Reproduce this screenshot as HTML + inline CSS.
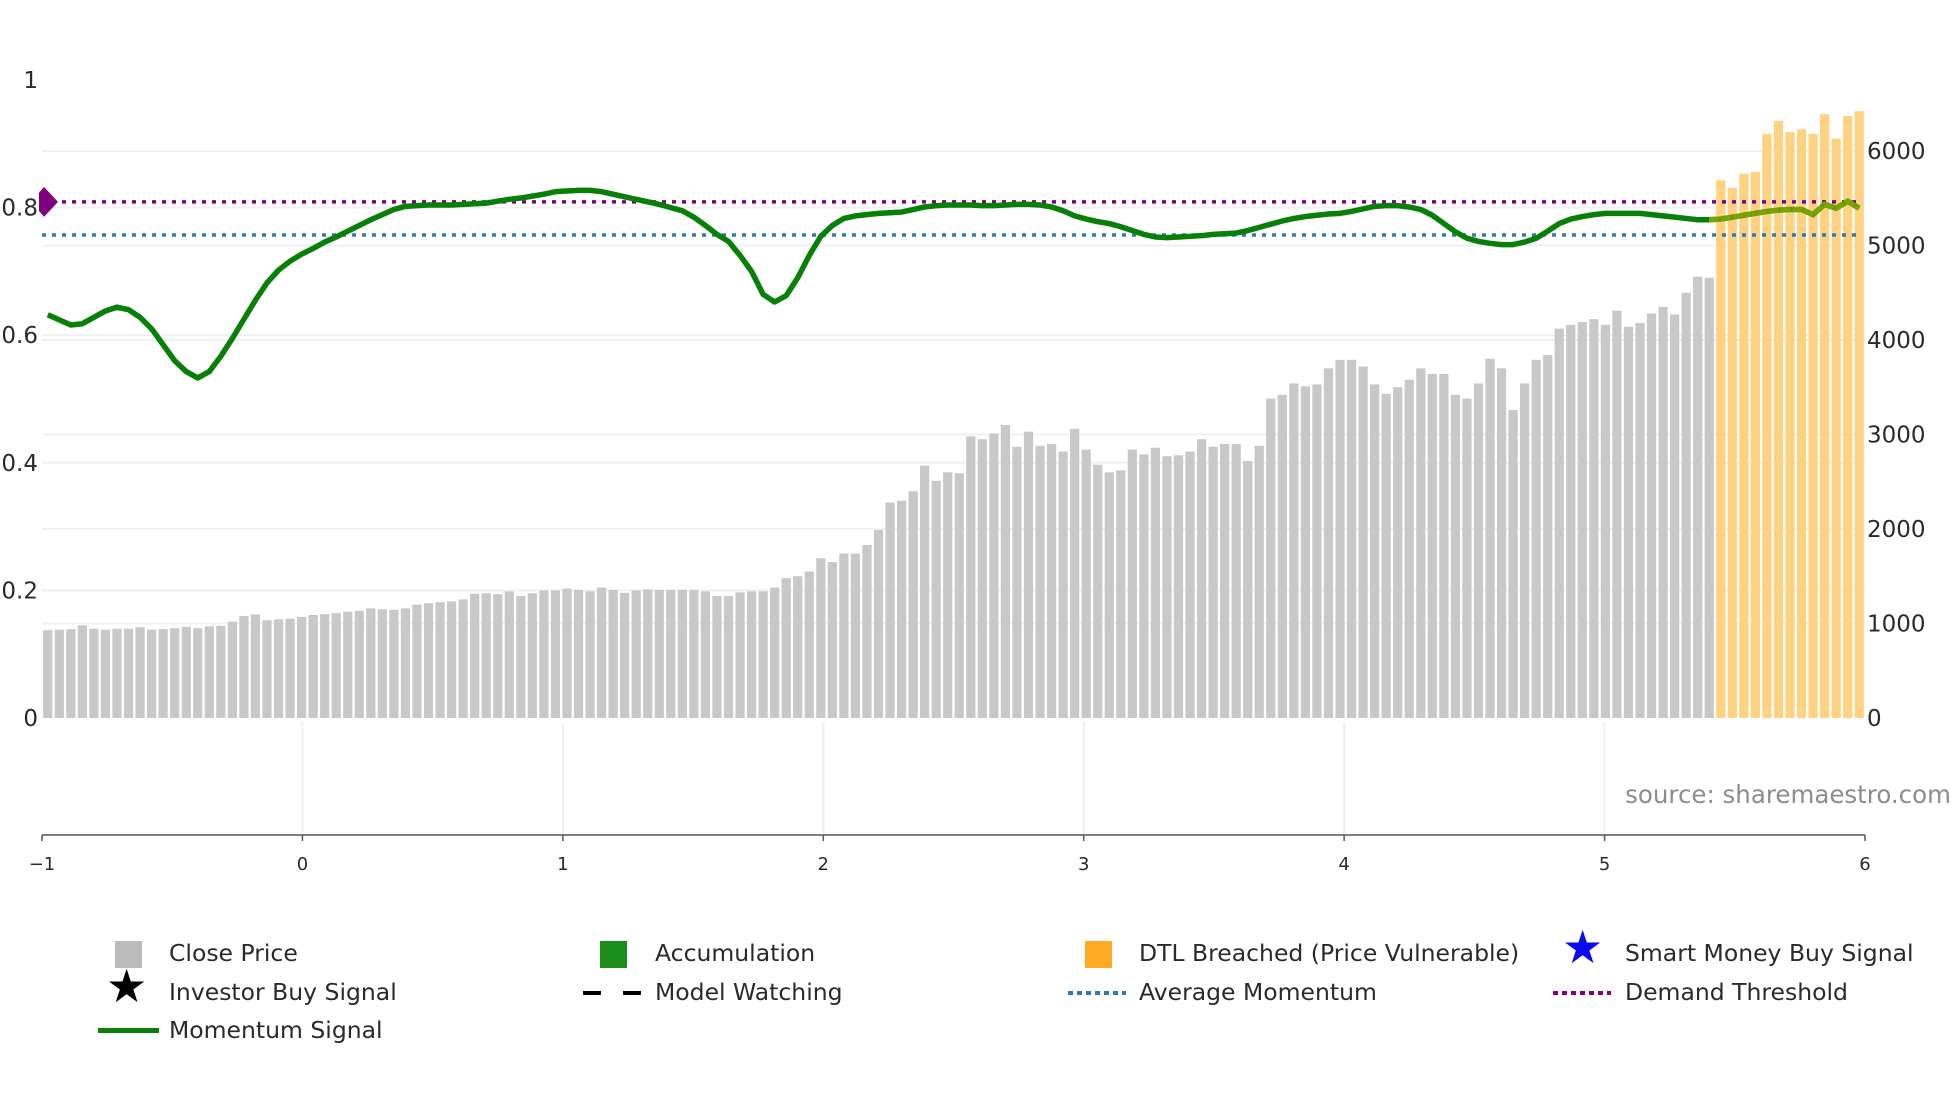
<!DOCTYPE html>
<html><head><meta charset="utf-8"><style>
body{margin:0;background:#fff;font-family:"DejaVu Sans","Liberation Sans",sans-serif;}
svg text{font-family:"DejaVu Sans","Liberation Sans",sans-serif;fill:#2a2a2a;}
</style></head><body>
<svg id="chart" width="1960" height="1102" xmlns="http://www.w3.org/2000/svg">
<g id="grid"></g><g id="bars"></g><g id="lines"></g><g id="axes"></g><g id="legend"></g>
</svg>
<script>
const closePrices=[930,935,940,980,945,935,945,945,960,935,940,950,965,950,970,975,1020,1080,1095,1035,1045,1050,1070,1090,1100,1110,1125,1135,1160,1150,1145,1160,1200,1215,1225,1235,1255,1315,1320,1310,1340,1290,1320,1350,1350,1370,1355,1340,1380,1355,1325,1350,1360,1355,1355,1355,1355,
1340,1290,1290,1330,1340,1340,1380,1480,1500,1550,1690,1650,1740,1740,1830,1990,2280,2300,2400,2670,2510,2600,2590,2980,2950,3010,3100,2870,3030,2880,2900,2820,3060,2840,2680,2600,2620,2840,2790,2860,2770,2780,2820,2950,2870,2900,2900,2720,2880,3380,3420,3540,3510,3530,3700,3790,3790,3720,3530,3430,3500,3580,3700,3640,3640,3420,3380,3540,3800,3700,3260,3540,3790,3840,4120,4160,4190,4220,4160,4310,4140,4180,4280,4350,4270,4500,4670,4660,
5690,5610,5760,5780,6180,6320,6200,6230,6180,6390,6130,6370,6420];
const breachStart=145;
const momentum=[0.632,0.624,0.616,0.618,0.628,0.638,0.644,0.640,0.628,0.610,0.585,0.560,0.543,0.533,0.543,0.567,0.595,0.625,0.655,0.682,0.702,0.716,0.727,0.736,0.746,0.754,0.763,0.772,0.781,0.789,0.797,0.802,0.803,0.804,0.804,0.804,0.805,0.806,0.807,0.810,0.813,0.815,0.818,0.821,0.825,0.826,0.827,0.827,0.825,0.821,0.817,0.813,0.809,0.805,0.800,0.795,0.785,0.772,0.758,0.747,0.725,0.700,0.664,0.652,0.662,0.690,0.725,0.755,0.772,0.783,0.787,0.789,0.791,0.792,0.793,0.797,0.801,0.803,0.804,0.804,0.804,0.803,0.803,0.804,0.805,0.805,0.804,0.801,0.795,0.787,0.782,0.778,0.775,0.770,0.764,0.758,0.754,0.753,0.754,0.755,0.756,0.758,0.759,0.760,0.764,0.769,0.774,0.779,0.783,0.786,0.788,0.790,0.791,0.794,0.798,0.802,0.803,0.803,0.801,0.797,0.788,0.775,0.762,0.752,0.747,0.744,0.742,0.742,0.746,0.752,0.763,0.775,0.782,0.786,0.789,0.791,0.791,0.791,0.791,0.789,0.787,0.785,0.783,0.781,0.781,
0.782,0.785,0.788,0.791,0.794,0.796,0.797,0.797,0.789,0.805,0.799,0.810,0.799];
const avgMomentum=0.757;
const demandThreshold=0.809;
const leftTicks=[0,0.2,0.4,0.6,0.8,1];
const rightTicks=[0,1000,2000,3000,4000,5000,6000];
const xTicks=[-1,0,1,2,3,4,5,6];

const NS="http://www.w3.org/2000/svg";
const X0=42,X1=1865,Y0=718,Y1=80,RMAX=6751;
const n=closePrices.length,pitch=(X1-X0)/n;
const xb=i=>X0+(i+0.5)*pitch;
const yl=v=>Y0-(v)*(Y0-Y1);
const yr=v=>Y0-v/RMAX*(Y0-Y1);
const xa=v=>X0+(v+1)*(X1-X0)/7;
function mk(tag,at,parent){const e=document.createElementNS(NS,tag);for(const k in at)e.setAttribute(k,at[k]);document.getElementById(parent).appendChild(e);return e;}

leftTicks.forEach(t=>{if(t===0||t===1)return;const e=mk('line',{x1:X0,x2:X1,y1:yl(t),y2:yl(t),stroke:'#edf0f4','stroke-width':2},'grid');

});
rightTicks.forEach(t=>{if(t===0)return;const e=mk('line',{x1:X0,x2:X1,y1:yr(t),y2:yr(t),stroke:'#edf0f4','stroke-width':2},'grid');

});
xTicks.forEach(t=>{if(t===-1||t===6)return;const e=mk('line',{x1:xa(t),x2:xa(t),y1:Y0+4,y2:835,stroke:'#edf0f4','stroke-width':2},'grid');

});

closePrices.forEach((v,i)=>{const w=pitch*0.8;const e=mk('rect',{x:xb(i)-w/2,y:yr(v),width:w,height:Y0-yr(v),fill:i>=breachStart?'#ffd282':'#c8c8c8'},'bars');

});

let l=mk('line',{x1:X0,x2:X1-8,y1:yl(demandThreshold),y2:yl(demandThreshold),stroke:'#800080','stroke-width':3.5,'stroke-dasharray':'4 6'},'lines');


l=mk('line',{x1:X0,x2:X1-8,y1:yl(avgMomentum),y2:yl(avgMomentum),stroke:'#2e7bb0','stroke-width':3.5,'stroke-dasharray':'4 6'},'lines');


const dy=yl(demandThreshold);
const dm=mk('polygon',{points:`${X0-3},${dy-9} ${X0+2},${dy-15} ${X0+16},${dy} ${X0+2},${dy+15} ${X0-3},${dy+9}`,fill:'#800080'},'lines');


const pts1=momentum.slice(0,breachStart).map((v,i)=>`${xb(i)},${yl(v)}`).join(' ');
const pts2=momentum.slice(breachStart-1).map((v,i)=>`${xb(i+breachStart-1)},${yl(v)}`).join(' ');
l=mk('polyline',{points:pts1,fill:'none',stroke:'#088008','stroke-width':5.5,'stroke-linejoin':'round'},'lines');


l=mk('polyline',{points:pts2,fill:'none',stroke:'#5f9a10','stroke-width':5.5,'stroke-linejoin':'round'},'lines');


l=mk('polyline',{points:pts2,fill:'none',stroke:'#7aa200','stroke-width':5.5,'stroke-dasharray':'10 2'},'lines');



leftTicks.forEach(t=>{const e=mk('text',{x:38,y:yl(t)+8,'text-anchor':'end','font-size':23},'axes');e.textContent=String(t);

});
rightTicks.forEach(t=>{const e=mk('text',{x:1867,y:yr(t)+8,'font-size':23},'axes');e.textContent=String(t);

});
l=mk('line',{x1:X0,x2:X1,y1:835,y2:835,stroke:'#555','stroke-width':1.5},'axes');


xTicks.forEach(t=>{const k=mk('line',{x1:xa(t),x2:xa(t),y1:835,y2:841,stroke:'#555','stroke-width':1.5},'axes');


const e=mk('text',{x:xa(t),y:870,'text-anchor':'middle','font-size':18},'axes');e.textContent=t<0?'\u2212'+Math.abs(t):String(t);

});
const src=mk('text',{x:1951,y:803,'text-anchor':'end','font-size':24.5,style:'fill:#8c8c8c'},'axes');src.textContent='source: sharemaestro.com';


</script>
<div style="position:absolute;left:0;top:0;width:1960px;height:1102px;pointer-events:none;font-size:23.5px;color:#2a2a2a;">
<div style="position:absolute;left:169px;top:939px">Close Price</div>
<div style="position:absolute;left:115px;top:941px;width:27px;height:27px;background:#bbb"></div>
<div style="position:absolute;left:655px;top:939px">Accumulation</div>
<div style="position:absolute;left:600px;top:941px;width:27px;height:27px;background:#1a8c1a"></div>
<div style="position:absolute;left:1139px;top:939px">DTL Breached (Price Vulnerable)</div>
<div style="position:absolute;left:1085px;top:941px;width:27px;height:27px;background:#ffaa22"></div>
<div style="position:absolute;left:1625px;top:939px">Smart Money Buy Signal</div>
<div style="position:absolute;left:1562px;top:924px;font-size:46px;color:#0a0aee;line-height:1">★</div>
<div style="position:absolute;left:169px;top:978px">Investor Buy Signal</div>
<div style="position:absolute;left:106px;top:963px;font-size:46px;color:#000;line-height:1">★</div>
<div style="position:absolute;left:655px;top:978px">Model Watching</div>
<div style="position:absolute;left:583px;top:991px;width:58px;height:4px;background:repeating-linear-gradient(90deg,#000 0 18px,transparent 18px 40px)"></div>
<div style="position:absolute;left:1139px;top:978px">Average Momentum</div>
<div style="position:absolute;left:1068px;top:991px;width:58px;height:4px;background:repeating-linear-gradient(90deg,#2e7bb0 0 5px,transparent 5px 9px)"></div>
<div style="position:absolute;left:1625px;top:978px">Demand Threshold</div>
<div style="position:absolute;left:1553px;top:991px;width:58px;height:4px;background:repeating-linear-gradient(90deg,#800080 0 5px,transparent 5px 9px)"></div>
<div style="position:absolute;left:169px;top:1016px">Momentum Signal</div>
<div style="position:absolute;left:98px;top:1028px;width:61px;height:5px;background:#088008"></div>
</div>
</body></html>
